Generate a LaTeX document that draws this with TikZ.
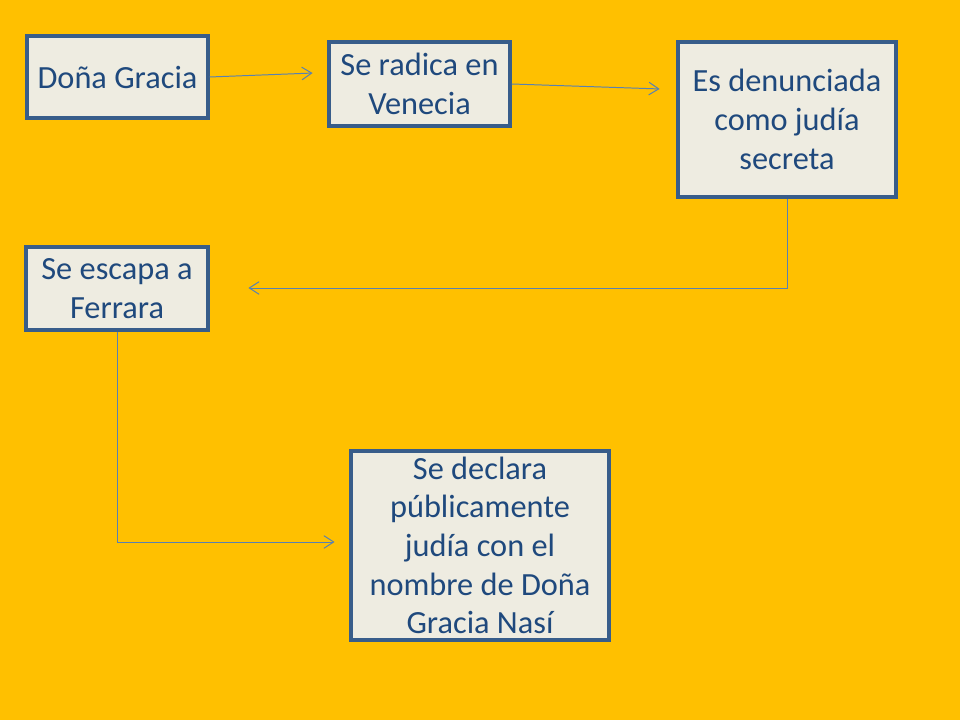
\documentclass[tikz,border=0pt]{standalone}
\usepackage{fontspec}
\setmainfont{Carlito}
\usetikzlibrary{positioning}
\usetikzlibrary{arrows.meta}
\definecolor{fondo}{HTML}{FFC000}
\definecolor{caja}{HTML}{EEECE1}
\definecolor{borde}{HTML}{385D8A}
\definecolor{letra}{HTML}{1F497D}
\definecolor{flecha}{HTML}{4F81BD}
\tikzset{->, % connectors are directed
>={Straight Barb[length=7pt,width=9pt]}, % open arrow heads
x=0.025cm, y=-0.025cm, % one unit is one pixel of the slide
evento/.style={draw=borde, line width=2.4pt, fill=caja, text=letra, align=center, inner sep=0pt, font=\fontsize{23}{27.5}\selectfont}, % the boxes
enlace/.style={draw=flecha!80!gray, line width=0.7pt, shorten >=1pt}, % the thin connectors
}
\begin{document}
\begin{tikzpicture}
\fill[fondo] (0,0) rectangle (960,720);
\useasboundingbox (0,0) rectangle (960,720);

\node[evento, minimum width=181*0.025cm, minimum height=82*0.025cm] (dg) at (117.5,77) {Doña Gracia};
\node[evento, minimum width=181*0.025cm, minimum height=84*0.025cm] (rv) at (419.5,84) {Se radica en\\Venecia};
\node[evento, minimum width=218*0.025cm, minimum height=155*0.025cm] (ed) at (787,119.5) {Es denunciada\\como judía\\secreta};
\node[evento, minimum width=182*0.025cm, minimum height=83*0.025cm] (ef) at (117,288.5) {Se escapa a\\Ferrara};
\node[evento, minimum width=258*0.025cm, minimum height=189*0.025cm] (sd) at (480,545.5) {Se declara\\públicamente\\judía con el\\nombre de Doña\\Gracia Nasí};

\coordinate (t1) at (314,73);
\coordinate (t2) at (661,89);
\coordinate (t3) at (247,288);
\coordinate (t4) at (336,542);

\draw[enlace] (dg.east) -- (t1);
\draw[enlace] (rv.east) -- (t2);
\draw[enlace] (ed.south) |- (t3);
\draw[enlace] (ef.south) |- (t4);

\end{tikzpicture}
\end{document}
